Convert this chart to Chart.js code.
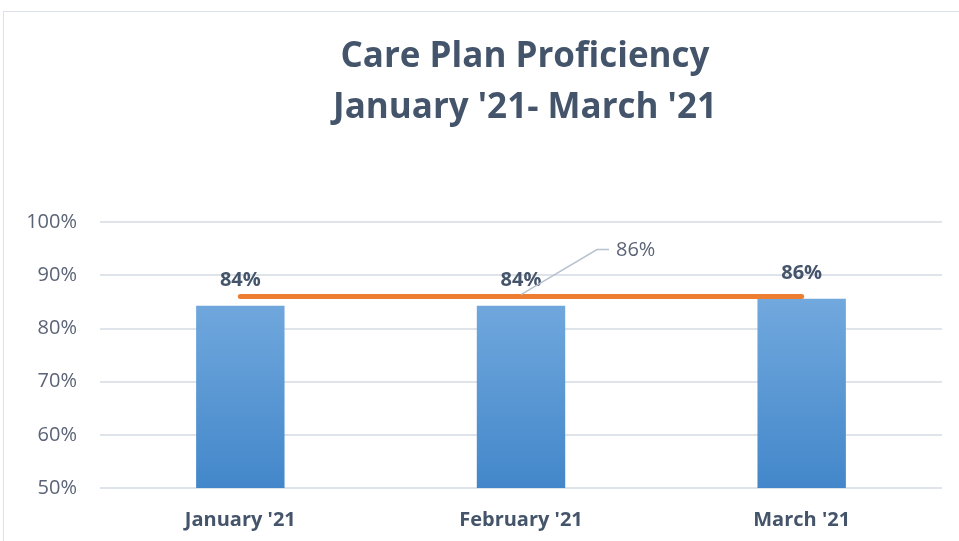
<!DOCTYPE html>
<html>
<head>
<meta charset="utf-8">
<script src="https://cdn.jsdelivr.net/npm/chart.js@4.4.1/dist/chart.umd.min.js"></script>
<style>
    body { margin: 0; background: #ffffff; }
    #frame { position: absolute; left: 3px; top: 11px; width: 980px; height: 560px; border-left: 1px solid #dde1e8; border-top: 1px solid #dde1e8; }
    #wrap { position: absolute; left: 0; top: 0; width: 959px; height: 541px; }
</style>
</head>
<body>
<div id="frame"></div>
<div id="wrap"><canvas id="proficiency_chart" width="959" height="541"></canvas></div>
<script>
const months = ["January '21", "February '21", "March '21"]
const proficiency = [84.3, 84.3, 85.6]
const target = [86, 86, 86]
const yTicks = [50, 60, 70, 80, 90, 100]
const calloutIndex = 1

const slate = '#44546a'
const grey = '#5b6476'

// bold value labels over the bars, plus the callout for the orange line
const labels_plugin = {
    id: 'labels_plugin',
    afterLayout(chart) {
        // the title sits a little right of the canvas centre in the original
        chart.titleBlock.left += 54
        chart.titleBlock.right += 54
    },
    afterDatasetsDraw(chart) {
        const ctx = chart.ctx
        ctx.save()
        ctx.textAlign = 'center'
        ctx.textBaseline = 'middle'
        ctx.font = "bold 20px 'Open Sans'"
        ctx.fillStyle = slate
        const bars = chart.getDatasetMeta(0).data
        bars.forEach((bar, i) => {
            ctx.fillText(Math.round(proficiency[i]) + '%', bar.x, bar.y - 25)
        })

        const pt = chart.getDatasetMeta(1).data[calloutIndex]
        ctx.strokeStyle = '#b8c2d0'
        ctx.lineWidth = 1.5
        ctx.beginPath()
        ctx.moveTo(pt.x, pt.y - 2)
        ctx.lineTo(pt.x + 76, pt.y - 47)
        ctx.lineTo(pt.x + 88, pt.y - 47)
        ctx.stroke()
        ctx.font = "20px 'Open Sans'"
        ctx.fillStyle = grey
        ctx.textAlign = 'left'
        ctx.fillText(target[calloutIndex] + '%', pt.x + 95, pt.y - 46)
        ctx.restore()
    }
}

function barGradient(context) {
    const chart = context.chart
    if (!chart.chartArea) return '#5b9bd5'
    const y = chart.scales.y
    const g = chart.ctx.createLinearGradient(0, y.getPixelForValue(86), 0, chart.chartArea.bottom)
    g.addColorStop(0, '#72a9de')
    g.addColorStop(1, '#4387ca')
    return g
}

Chart.defaults.font.family = "'Open Sans', 'Noto Sans', sans-serif"

const proficiency_chart = new Chart("proficiency_chart", {
    type: 'bar',
    data: {
        labels: months,
        datasets: [
            {
                label: 'Proficiency',
                data: proficiency,
                backgroundColor: barGradient,
                barPercentage: 0.63,
                categoryPercentage: 0.5,
                order: 2
            },
            {
                type: 'line',
                label: 'Target',
                data: target,
                borderColor: '#ed7d31',
                borderWidth: 5,
                borderCapStyle: 'round',
                pointRadius: 0,
                fill: false,
                order: 1
            }
        ]
    },
    options: {
        responsive: false,
        animation: false,
        layout: { padding: { left: 0, right: 17, top: 0, bottom: 0 } },
        plugins: {
            legend: { display: false },
            tooltip: { enabled: false },
            title: {
                display: true,
                text: ['Care Plan Proficiency', "January '21- March '21"],
                color: slate,
                font: { size: 35, weight: 'bold', lineHeight: 1.46 },
                padding: { top: 31, bottom: 89 }
            }
        },
        scales: {
            x: {
                grid: { display: false, drawTicks: false },
                border: { display: false },
                afterFit: (scale) => { scale.height = 53 },
                ticks: { color: slate, font: { size: 20, weight: 'bold' }, padding: 20 }
            },
            y: {
                min: 50,
                max: 100,
                afterBuildTicks: (scale) => { scale.ticks = yTicks.map(v => ({ value: v })) },
                afterFit: (scale) => { scale.width = 100 },
                grid: { color: '#dfe3ea', lineWidth: 2, drawTicks: false },
                border: { display: false },
                ticks: { color: grey, font: { size: 20 }, padding: 23, callback: (v) => v + '%' }
            }
        }
    },
    plugins: [labels_plugin]
})
</script>
</body>
</html>
